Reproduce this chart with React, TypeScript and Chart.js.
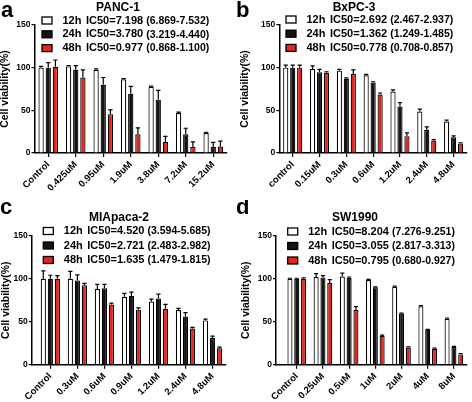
import React, { useEffect, useRef } from 'react';
import { Chart, registerables, CategoryScale } from 'chart.js';

Chart.register(...registerables);

class GapCategoryScale extends CategoryScale {
  static id = 'gapcategory';
  static defaults = { ...(CategoryScale as any).defaults };
  configure() {
    super.configure();
    const raw: any = (this.chart.config.options as any).scales.x;
    const lead = raw.leadGap || 0;
    const trail = raw.trailGap || 0;
    (this as any)._startValue -= lead;
    (this as any)._valueRange += lead + trail;
  }
}
Chart.register(GapCategoryScale as any);

const FONT = '"Liberation Sans", Arial, Helvetica, sans-serif';

// ---------- data ----------
const timeLabels = ['12h', '24h', '48h'];

const panc1Labels = ['Control', '0.425uM', '0.95uM', '1.9uM', '3.8uM', '7.2uM', '15.2uM'];
const panc1_12h = [100, 101.5, 97.5, 86.5, 77.5, 47, 23.5];
const panc1_12hErr = [1.5, 1, 1, 0.8, 0.8, 0.8, 0.8];
const panc1_24h = [100, 97.5, 80, 69.5, 62.5, 22, 7];
const panc1_24hErr = [6, 5, 8.5, 8.5, 11, 7, 5.5];
const panc1_48h = [101, 88.5, 45.5, 22, 13, 7, 7.5];
const panc1_48hErr = [8, 9, 5, 7.5, 6.5, 6, 6.5];
const panc1IC50 = ['IC50=7.198', 'IC50=3.780', 'IC50=0.977'];
const panc1Range = ['(6.869-7.532)', '(3.219-4.440)', '(0.868-1.100)'];

const bxpc3Labels = ['control', '0.15uM', '0.3uM', '0.6uM', '1.2uM', '2.4uM', '4.8uM'];
const bxpc3_12h = [100, 98.5, 96.5, 91, 72, 48.7, 37];
const bxpc3_12hErr = [3, 3.5, 1.5, 1.2, 2, 2.7, 1.5];
const bxpc3_24h = [100, 94.5, 87, 82.5, 54.5, 27, 18.5];
const bxpc3_24hErr = [3, 3.5, 1, 1, 4.5, 3.5, 1.5];
const bxpc3_48h = [100, 94, 92.5, 68.5, 19.5, 14.5, 11];
const bxpc3_48hErr = [3, 1.2, 5, 1.8, 4, 1.2, 1];
const bxpc3IC50 = ['IC50=2.692', 'IC50=1.362', 'IC50=0.778'];
const bxpc3Range = ['(2.467-2.937)', '(1.249-1.485)', '(0.708-0.857)'];

const mia2Labels = ['Control', '0.3uM', '0.6uM', '0.9uM', '1.2uM', '2.4uM', '4.8uM'];
const mia2_12h = [100, 100, 88, 79, 73.5, 63.5, 51.5];
const mia2_12hErr = [9, 8.5, 5.5, 4, 2.7, 2, 1.5];
const mia2_24h = [100, 98, 89, 80, 77, 56, 31];
const mia2_24hErr = [4, 6.5, 4.5, 4.5, 5, 4.5, 2.3];
const mia2_48h = [100, 92.5, 70, 64, 65, 42, 19];
const mia2_48hErr = [3.5, 2, 1.5, 2, 5.2, 1.5, 1.5];
const mia2IC50 = ['IC50=4.520', 'IC50=2.721', 'IC50=1.635'];
const mia2Range = ['(3.594-5.685)', '(2.483-2.982)', '(1.479-1.815)'];

const sw1990Labels = ['Control', '0.25uM', '0.5uM', '1uM', '2uM', '4uM', '8uM'];
const sw1990_12h = [100, 102, 102.5, 98.5, 90.5, 68, 53.5];
const sw1990_12hErr = [0.5, 4, 4, 0.8, 0.8, 0.8, 0.8];
const sw1990_24h = [100, 101.5, 101, 90, 59.5, 40.5, 20.5];
const sw1990_24hErr = [0.5, 2, 1, 0.5, 0.5, 0.5, 0.8];
const sw1990_48h = [100, 95, 63.5, 33.5, 20, 18.5, 12];
const sw1990_48hErr = [1, 4, 4, 0.8, 0.8, 0.8, 0.8];
const sw1990IC50 = ['IC50=8.204', 'IC50=3.055', 'IC50=0.795'];
const sw1990Range = ['(7.276-9.251)', '(2.817-3.313)', '(0.680-0.927)'];

const yTicksMax = 150;
const yStep = 50;
const yTitle = 'Cell viability(%)';

// ---------- layout / style ----------
const COLORS = ['#ffffff', '#141414', '#e3261d'];

interface Panel {
  letter: string;
  title: string;
  labels: string[];
  values: number[][];
  errors: number[][];
  ic50: string[];
  ranges: string[];
  box: { x: number; y: number; w: number; h: number };
  area: { left: number; right: number; top: number; bottom: number };
  lead: number;
  legend: { x: number; y0: number; dy: number };
  titlePos: { x: number; y: number };
  letterPos: { x: number; y: number };
  yTitlePad: number;
}

const panels: Panel[] = [
  {
    letter: 'a', title: 'PANC-1', labels: panc1Labels,
    values: [panc1_12h, panc1_24h, panc1_48h], errors: [panc1_12hErr, panc1_24hErr, panc1_48hErr],
    ic50: panc1IC50, ranges: panc1Range,
    box: { x: 0, y: 0, w: 236, h: 200 },
    area: { left: 34.5, right: 227, top: 25, bottom: 153 }, lead: 0,
    legend: { x: 42, y0: 20.5, dy: 13.8 }, titlePos: { x: 118, y: 10.5 }, letterPos: { x: 1, y: 17 }, yTitlePad: 0,
  },
  {
    letter: 'b', title: 'BxPC-3', labels: bxpc3Labels,
    values: [bxpc3_12h, bxpc3_24h, bxpc3_48h], errors: [bxpc3_12hErr, bxpc3_24hErr, bxpc3_48hErr],
    ic50: bxpc3IC50, ranges: bxpc3Range,
    box: { x: 236, y: 0, w: 236, h: 200 },
    area: { left: 43.3, right: 231, top: 25, bottom: 153 }, lead: 0,
    legend: { x: 50, y0: 19.5, dy: 14.2 }, titlePos: { x: 118, y: 10.5 }, letterPos: { x: 0, y: 17 }, yTitlePad: 3.5,
  },
  {
    letter: 'c', title: 'MIApaca-2', labels: mia2Labels,
    values: [mia2_12h, mia2_24h, mia2_48h], errors: [mia2_12hErr, mia2_24hErr, mia2_48hErr],
    ic50: mia2IC50, ranges: mia2Range,
    box: { x: 0, y: 200, w: 236, h: 202 },
    area: { left: 31.7, right: 226, top: 35.7, bottom: 164.7 }, lead: 0.095,
    legend: { x: 43.3, y0: 31, dy: 14.5 }, titlePos: { x: 119, y: 20.5 }, letterPos: { x: 0, y: 13.5 }, yTitlePad: 0.5,
  },
  {
    letter: 'd', title: 'SW1990', labels: sw1990Labels,
    values: [sw1990_12h, sw1990_24h, sw1990_48h], errors: [sw1990_12hErr, sw1990_24hErr, sw1990_48hErr],
    ic50: sw1990IC50, ranges: sw1990Range,
    box: { x: 236, y: 200, w: 236, h: 202 },
    area: { left: 40, right: 231, top: 35.7, bottom: 164.7 }, lead: 0.146,
    legend: { x: 51.7, y0: 31.5, dy: 14.5 }, titlePos: { x: 119, y: 20.5 }, letterPos: { x: 0, y: 13.5 }, yTitlePad: 4.5,
  },
];

const errorBarPlugin = {
  id: 'errorBars',
  afterDatasetsDraw(chart: any) {
    const ctx = chart.ctx;
    const ys = chart.scales.y;
    ctx.save();
    ctx.strokeStyle = '#000';
    ctx.lineWidth = 1.2;
    chart.data.datasets.forEach((ds: any, i: number) => {
      const meta = chart.getDatasetMeta(i);
      const errs: number[] = ds.errors || [];
      meta.data.forEach((bar: any, j: number) => {
        const v = ds.data[j];
        const e = errs[j];
        if (!e) return;
        const { x, y, width } = bar.getProps(['x', 'y', 'width'], true);
        const yt = ys.getPixelForValue(v + e);
        const hw = width / 2 - 0.5;
        ctx.beginPath();
        ctx.moveTo(x, y);
        ctx.lineTo(x, yt);
        ctx.moveTo(x - hw, yt);
        ctx.lineTo(x + hw, yt);
        ctx.stroke();
      });
    });
    ctx.restore();
  },
};

const decoPlugin = {
  id: 'panelDeco',
  afterDraw(chart: any, _args: any, opts: any) {
    const ctx = chart.ctx;
    ctx.save();
    ctx.fillStyle = '#000';
    ctx.textAlign = 'left';
    ctx.textBaseline = 'alphabetic';
    ctx.font = `bold 22px ${FONT}`;
    ctx.fillText(opts.letter, opts.letterPos.x, opts.letterPos.y);
    ctx.font = `bold 12px ${FONT}`;
    ctx.textAlign = 'center';
    ctx.fillText(opts.title, opts.titlePos.x, opts.titlePos.y);
    ctx.textAlign = 'left';
    ctx.textBaseline = 'middle';
    chart.data.datasets.forEach((ds: any, i: number) => {
      const x = opts.legend.x;
      const y = opts.legend.y0 + i * opts.legend.dy;
      ctx.fillStyle = ds.backgroundColor;
      ctx.fillRect(x, y - 3.5, 10, 7);
      ctx.strokeStyle = '#000';
      ctx.lineWidth = 1.3;
      ctx.strokeRect(x, y - 3.5, 10, 7);
      ctx.fillStyle = '#000';
      ctx.font = `bold 11px ${FONT}`;
      ctx.fillText(ds.label, x + 20.5, y);
      ctx.fillText(opts.ic50[i], x + 44, y);
      const w = ctx.measureText(opts.ic50[i]).width;
      ctx.font = `bold 10.5px ${FONT}`;
      ctx.fillText(opts.ranges[i], x + 44 + w + 3, y + 0.5);
    });
    ctx.restore();
  },
};

function makeConfig(p: Panel): any {
  const tickFont = { family: FONT, size: 9.5, weight: 'bold' };
  return {
    type: 'bar',
    data: {
      labels: p.labels,
      datasets: timeLabels.map((lab, i) => ({
        label: lab,
        data: p.values[i],
        errors: p.errors[i],
        backgroundColor: COLORS[i],
        borderColor: '#000',
        borderWidth: 1.2,
        categoryPercentage: 0.78,
        barPercentage: 0.74,
      })),
    },
    options: {
      responsive: false,
      animation: false,
      devicePixelRatio: 1,
      layout: { padding: { left: 0, top: p.area.top, right: p.box.w - p.area.right, bottom: 0 } },
      scales: {
        x: {
          type: 'gapcategory',
          leadGap: p.lead,
          trailGap: 0,
          offset: true,
          afterFit: (s: any) => { s.height = p.box.h - p.area.bottom; },
          grid: { display: true, drawOnChartArea: false, drawTicks: true, tickLength: 4, color: '#000', lineWidth: 1.2, offset: false },
          border: { display: true, color: '#000', width: 1.5 },
          ticks: { minRotation: 45, maxRotation: 45, autoSkip: false, color: '#000', font: tickFont, padding: 2 },
        },
        y: {
          min: 0,
          max: yTicksMax,
          afterFit: (s: any) => { s.width = p.area.left; },
          ticks: { stepSize: yStep, color: '#000', font: { family: FONT, size: 8.5, weight: 'bold' }, padding: 1 },
          grid: { display: true, drawOnChartArea: false, drawTicks: true, tickLength: 3, color: '#000', lineWidth: 1.2 },
          border: { display: true, color: '#000', width: 1.5 },
          title: { display: true, text: yTitle, color: '#000', font: { family: FONT, size: 10.5, weight: 'bold', lineHeight: 1 }, padding: { top: p.yTitlePad, bottom: 0 } },
        },
      },
      plugins: {
        legend: { display: false },
        tooltip: { enabled: false },
        panelDeco: {
          letter: p.letter, title: p.title, ic50: p.ic50, ranges: p.ranges,
          legend: p.legend, titlePos: p.titlePos, letterPos: p.letterPos,
        },
      },
    },
    plugins: [errorBarPlugin, decoPlugin],
  };
}

function PanelChart({ p }: { p: Panel }) {
  const ref = useRef<HTMLCanvasElement>(null);
  useEffect(() => {
    if (!ref.current) return;
    const chart = new Chart(ref.current, makeConfig(p));
    return () => chart.destroy();
  }, [p]);
  return (
    <div style={{ position: 'absolute', left: p.box.x, top: p.box.y, width: p.box.w, height: p.box.h }}>
      <canvas ref={ref} width={p.box.w} height={p.box.h} style={{ display: 'block', width: p.box.w, height: p.box.h }} />
    </div>
  );
}

export default function App() {
  useEffect(() => {
    document.body.style.margin = '0';
    document.body.style.background = '#fff';
  }, []);
  return (
    <div style={{ position: 'relative', width: 472, height: 402, background: '#fff', overflow: 'hidden' }}>
      {panels.map((p) => (
        <PanelChart key={p.letter} p={p} />
      ))}
    </div>
  );
}
